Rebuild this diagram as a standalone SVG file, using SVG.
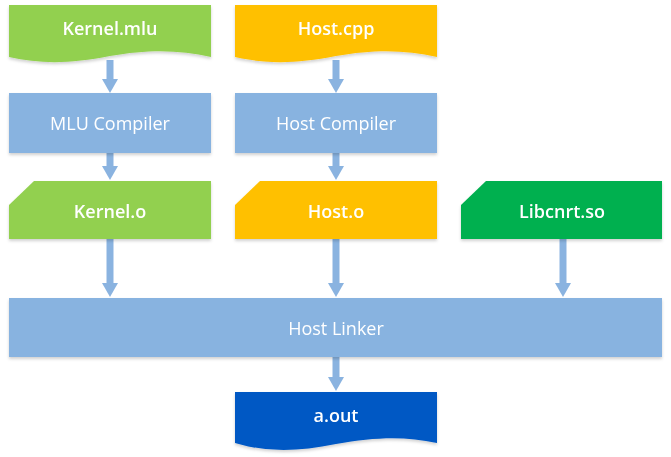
<svg xmlns="http://www.w3.org/2000/svg" width="671" height="457" viewBox="0 0 671 457">
<defs>
<filter id="sh" x="-5%" y="-10%" width="110%" height="130%">
<feDropShadow dx="0" dy="2" stdDeviation="1.5" flood-color="#000" flood-opacity="0.18"/>
</filter>
<marker id="ah" markerUnits="userSpaceOnUse" markerWidth="14" markerHeight="16" viewBox="0 0 14 16" refX="2" refY="8" orient="auto">
<path d="M0,0 L14,8 L0,16 Z" fill="#8AB3E0"/>
</marker>
</defs>
<style>
.t{font-family:"Open Sans","Noto Sans","Liberation Sans",sans-serif;font-size:18px;fill:#fff;text-anchor:middle;dominant-baseline:central}
.b{font-weight:600}
.proc{fill:#88B3E0}
.con{stroke:#8AB3E0;stroke-width:7;fill:none;marker-end:url(#ah)}
</style>
<rect width="671" height="457" fill="#fff"/>
<g id="connectors">
<line class="con" x1="110" y1="60" x2="110" y2="81"/>
<line class="con" x1="336" y1="60" x2="336" y2="81"/>
<line class="con" x1="110" y1="153" x2="110" y2="168"/>
<line class="con" x1="336" y1="153" x2="336" y2="168"/>
<line class="con" x1="110" y1="239" x2="110" y2="285"/>
<line class="con" x1="336" y1="239" x2="336" y2="285"/>
<line class="con" x1="563" y1="239" x2="563" y2="285"/>
<line class="con" x1="336" y1="357" x2="336" y2="379"/>
</g>
<g id="kernel_mlu" filter="url(#sh)">
<path d="M9,5 H211 V57 C180,50 150,49 110,56 C70,64 40,64 9,57 Z" fill="#92D050"/>
<text class="t b" x="110" y="28">Kernel.mlu</text>
</g>
<g id="host_cpp" filter="url(#sh)">
<path d="M235,5 H437 V57 C406,50 376,49 336,56 C296,64 266,64 235,57 Z" fill="#FFC000"/>
<text class="t b" x="336" y="28">Host.cpp</text>
</g>
<g id="mlu_compiler" filter="url(#sh)">
<rect class="proc" x="9" y="93" width="202" height="60"/>
<text class="t" x="110" y="123">MLU Compiler</text>
</g>
<g id="host_compiler" filter="url(#sh)">
<rect class="proc" x="235" y="93" width="202" height="60"/>
<text class="t" x="336" y="123">Host Compiler</text>
</g>
<g id="kernel_o" filter="url(#sh)">
<path d="M34,181 H211 V239 H9 V205 Z" fill="#92D050"/>
<text class="t b" x="110" y="211">Kernel.o</text>
</g>
<g id="host_o" filter="url(#sh)">
<path d="M260,181 H437 V239 H235 V205 Z" fill="#FFC000"/>
<text class="t b" x="336" y="211">Host.o</text>
</g>
<g id="libcnrt_so" filter="url(#sh)">
<path d="M486,181 H662 V239 H461 V205 Z" fill="#00B050"/>
<text class="t b" x="562" y="211">Libcnrt.so</text>
</g>
<g id="host_linker" filter="url(#sh)">
<rect class="proc" x="9" y="298" width="653" height="59"/>
<text class="t" x="336" y="328">Host Linker</text>
</g>
<g id="a_out" filter="url(#sh)">
<path d="M235,392 H437 V443 C405,436 375,437 336,444 C297,452 265,452 235,443 Z" fill="#0058C4"/>
<text class="t b" x="336" y="415">a.out</text>
</g>
</svg>
